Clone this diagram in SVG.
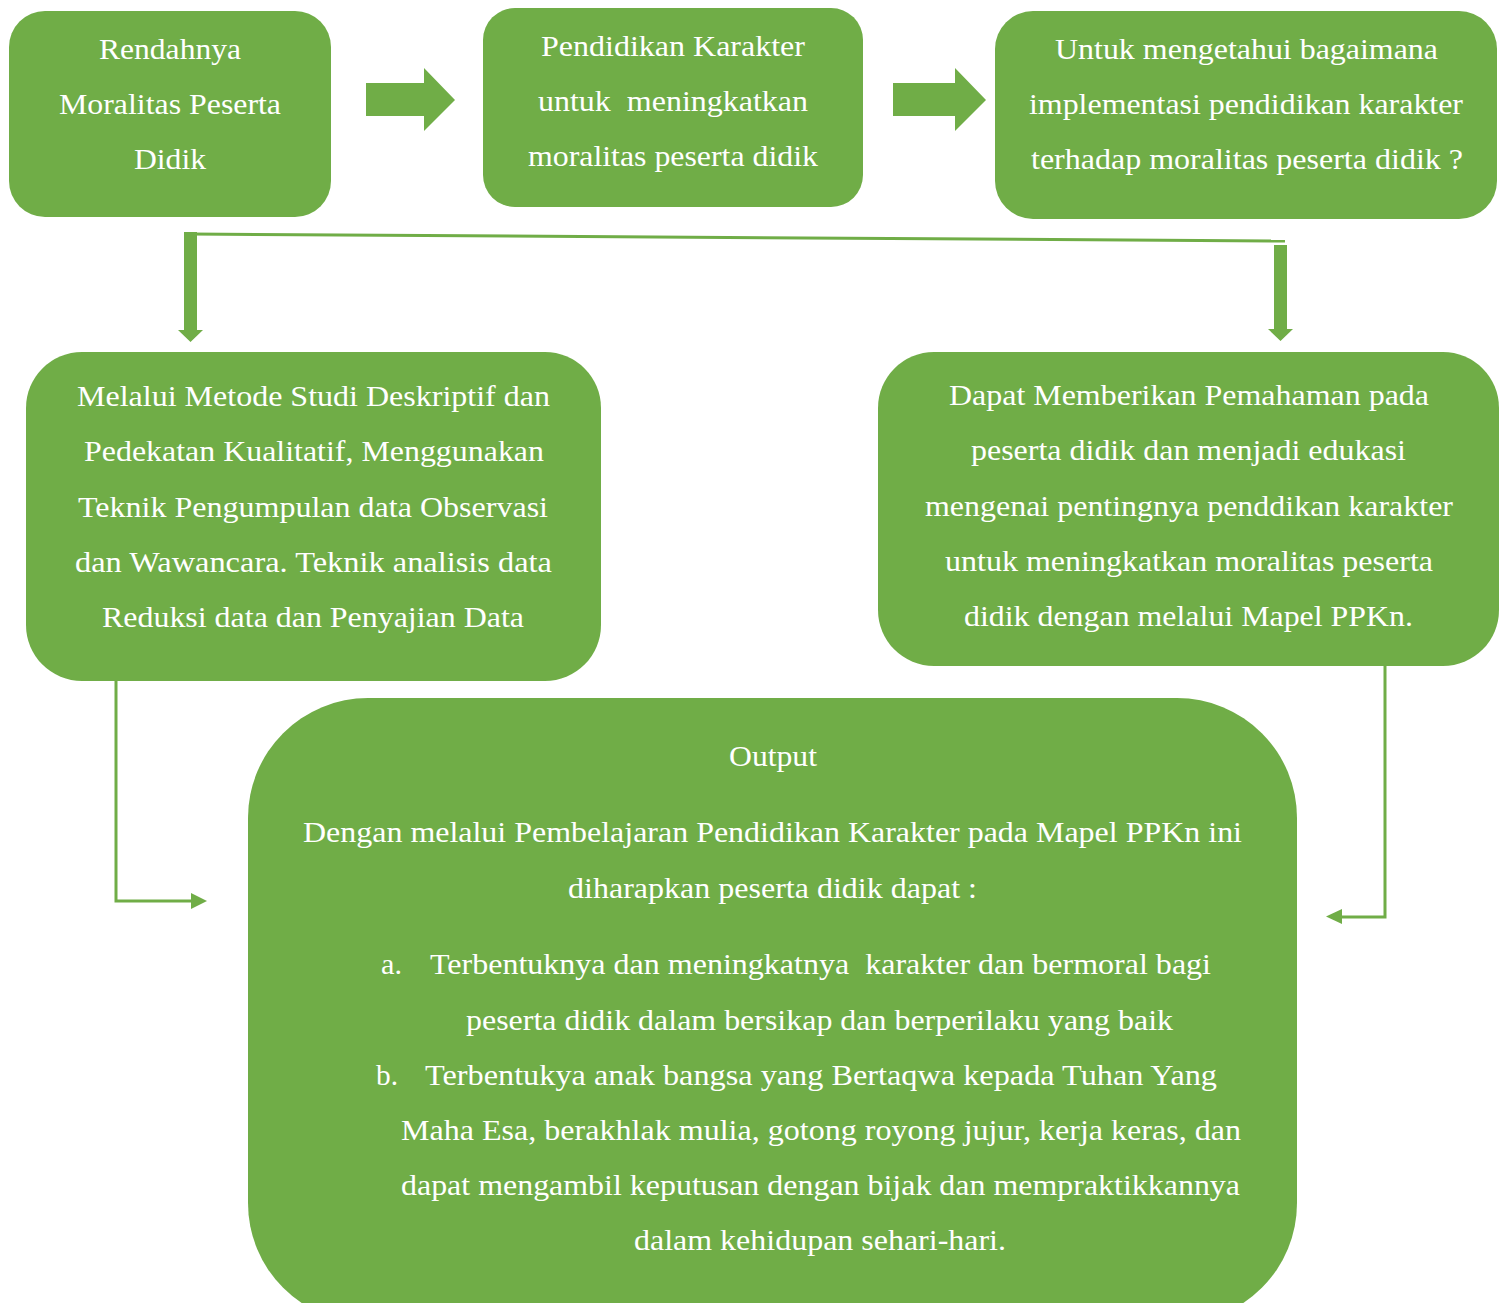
<svg xmlns="http://www.w3.org/2000/svg" width="1499" height="1303" viewBox="0 0 1499 1303">
<style>
.box{fill:#70AD47}
.t{font-family:"Liberation Serif","Times New Roman",serif;font-size:30px;fill:#ffffff;white-space:pre}
.ln{stroke:#70AD47;fill:none;stroke-width:3}
.ah{fill:#70AD47}
</style>
<rect width="1499" height="1303" fill="#ffffff"/>
<g id="connectors">
<polygon class="ah" points="366,83 424,83 424,68 455,100 424,131 424,116 366,116"/>
<polygon class="ah" points="893,83 955,83 955,68 986,100 955,131 955,116 893,116"/>
<line class="ln" x1="190" y1="234" x2="1285" y2="241"/>
<polygon class="ah" points="184,232 197,232 197,330 203,330 190.5,342 178,330 184,330"/>
<polygon class="ah" points="1274,245 1287,245 1287,329 1293,329 1280.5,341 1268,329 1274,329"/>
<polyline class="ln" points="116,681 116,901 192,901"/>
<polygon class="ah" points="191,893 207,901 191,909"/>
<polyline class="ln" points="1385,666 1385,917 1340,917"/>
<polygon class="ah" points="1342,909 1326,916.5 1342,924"/>
</g>
<g id="n1">
<rect class="box" x="9" y="11" width="322" height="206" rx="36"/>
<text class="t" x="99" y="59" textLength="142" lengthAdjust="spacingAndGlyphs">Rendahnya</text>
<text class="t" x="59" y="114" textLength="222" lengthAdjust="spacingAndGlyphs">Moralitas Peserta</text>
<text class="t" x="134" y="169" textLength="72" lengthAdjust="spacingAndGlyphs">Didik</text>
</g>
<g id="n2">
<rect class="box" x="483" y="8" width="380" height="199" rx="32"/>
<text class="t" x="541" y="56" textLength="264" lengthAdjust="spacingAndGlyphs">Pendidikan Karakter</text>
<text class="t" x="538" y="111" textLength="270" lengthAdjust="spacingAndGlyphs" xml:space="preserve">untuk  meningkatkan</text>
<text class="t" x="528" y="166" textLength="290" lengthAdjust="spacingAndGlyphs">moralitas peserta didik</text>
</g>
<g id="n3">
<rect class="box" x="995" y="11" width="502" height="208" rx="38"/>
<text class="t" x="1055" y="59" textLength="383" lengthAdjust="spacingAndGlyphs">Untuk mengetahui bagaimana</text>
<text class="t" x="1029" y="114" textLength="434" lengthAdjust="spacingAndGlyphs">implementasi pendidikan karakter</text>
<text class="t" x="1031" y="169" textLength="432" lengthAdjust="spacingAndGlyphs">terhadap moralitas peserta didik ?</text>
</g>
<g id="n4">
<rect class="box" x="26" y="352" width="575" height="329" rx="56"/>
<text class="t" x="77" y="406" textLength="473" lengthAdjust="spacingAndGlyphs">Melalui Metode Studi Deskriptif dan</text>
<text class="t" x="84" y="461" textLength="460" lengthAdjust="spacingAndGlyphs">Pedekatan Kualitatif, Menggunakan</text>
<text class="t" x="78" y="517" textLength="470" lengthAdjust="spacingAndGlyphs">Teknik Pengumpulan data Observasi</text>
<text class="t" x="75" y="572" textLength="477" lengthAdjust="spacingAndGlyphs">dan Wawancara. Teknik analisis data</text>
<text class="t" x="102" y="627" textLength="422" lengthAdjust="spacingAndGlyphs">Reduksi data dan Penyajian Data</text>
</g>
<g id="n5">
<rect class="box" x="878" y="352" width="621" height="314" rx="56"/>
<text class="t" x="949" y="405" textLength="480" lengthAdjust="spacingAndGlyphs">Dapat Memberikan Pemahaman pada</text>
<text class="t" x="971" y="460" textLength="435" lengthAdjust="spacingAndGlyphs">peserta didik dan menjadi edukasi</text>
<text class="t" x="925" y="516" textLength="528" lengthAdjust="spacingAndGlyphs">mengenai pentingnya penddikan karakter</text>
<text class="t" x="945" y="571" textLength="488" lengthAdjust="spacingAndGlyphs">untuk meningkatkan moralitas peserta</text>
<text class="t" x="964" y="626" textLength="449" lengthAdjust="spacingAndGlyphs">didik dengan melalui Mapel PPKn.</text>
</g>
<g id="n6">
<rect class="box" x="248" y="698" width="1049" height="625" rx="120"/>
<text class="t" x="729" y="766" textLength="88" lengthAdjust="spacingAndGlyphs">Output</text>
<text class="t" x="303" y="842" textLength="939" lengthAdjust="spacingAndGlyphs">Dengan melalui Pembelajaran Pendidikan Karakter pada Mapel PPKn ini</text>
<text class="t" x="568" y="898" textLength="409" lengthAdjust="spacingAndGlyphs">diharapkan peserta didik dapat :</text>
<text class="t" x="381" y="974" textLength="21" lengthAdjust="spacingAndGlyphs">a.</text>
<text class="t" x="430" y="974" textLength="781" lengthAdjust="spacingAndGlyphs" xml:space="preserve">Terbentuknya dan meningkatnya  karakter dan bermoral bagi</text>
<text class="t" x="466" y="1030" textLength="707" lengthAdjust="spacingAndGlyphs">peserta didik dalam bersikap dan berperilaku yang baik</text>
<text class="t" x="376" y="1085" textLength="22" lengthAdjust="spacingAndGlyphs">b.</text>
<text class="t" x="425" y="1085" textLength="792" lengthAdjust="spacingAndGlyphs">Terbentukya anak bangsa yang Bertaqwa kepada Tuhan Yang</text>
<text class="t" x="401" y="1140" textLength="840" lengthAdjust="spacingAndGlyphs">Maha Esa, berakhlak mulia, gotong royong jujur, kerja keras, dan</text>
<text class="t" x="401" y="1195" textLength="839" lengthAdjust="spacingAndGlyphs">dapat mengambil keputusan dengan bijak dan mempraktikkannya</text>
<text class="t" x="634" y="1250" textLength="372" lengthAdjust="spacingAndGlyphs">dalam kehidupan sehari-hari.</text>
</g>
</svg>
